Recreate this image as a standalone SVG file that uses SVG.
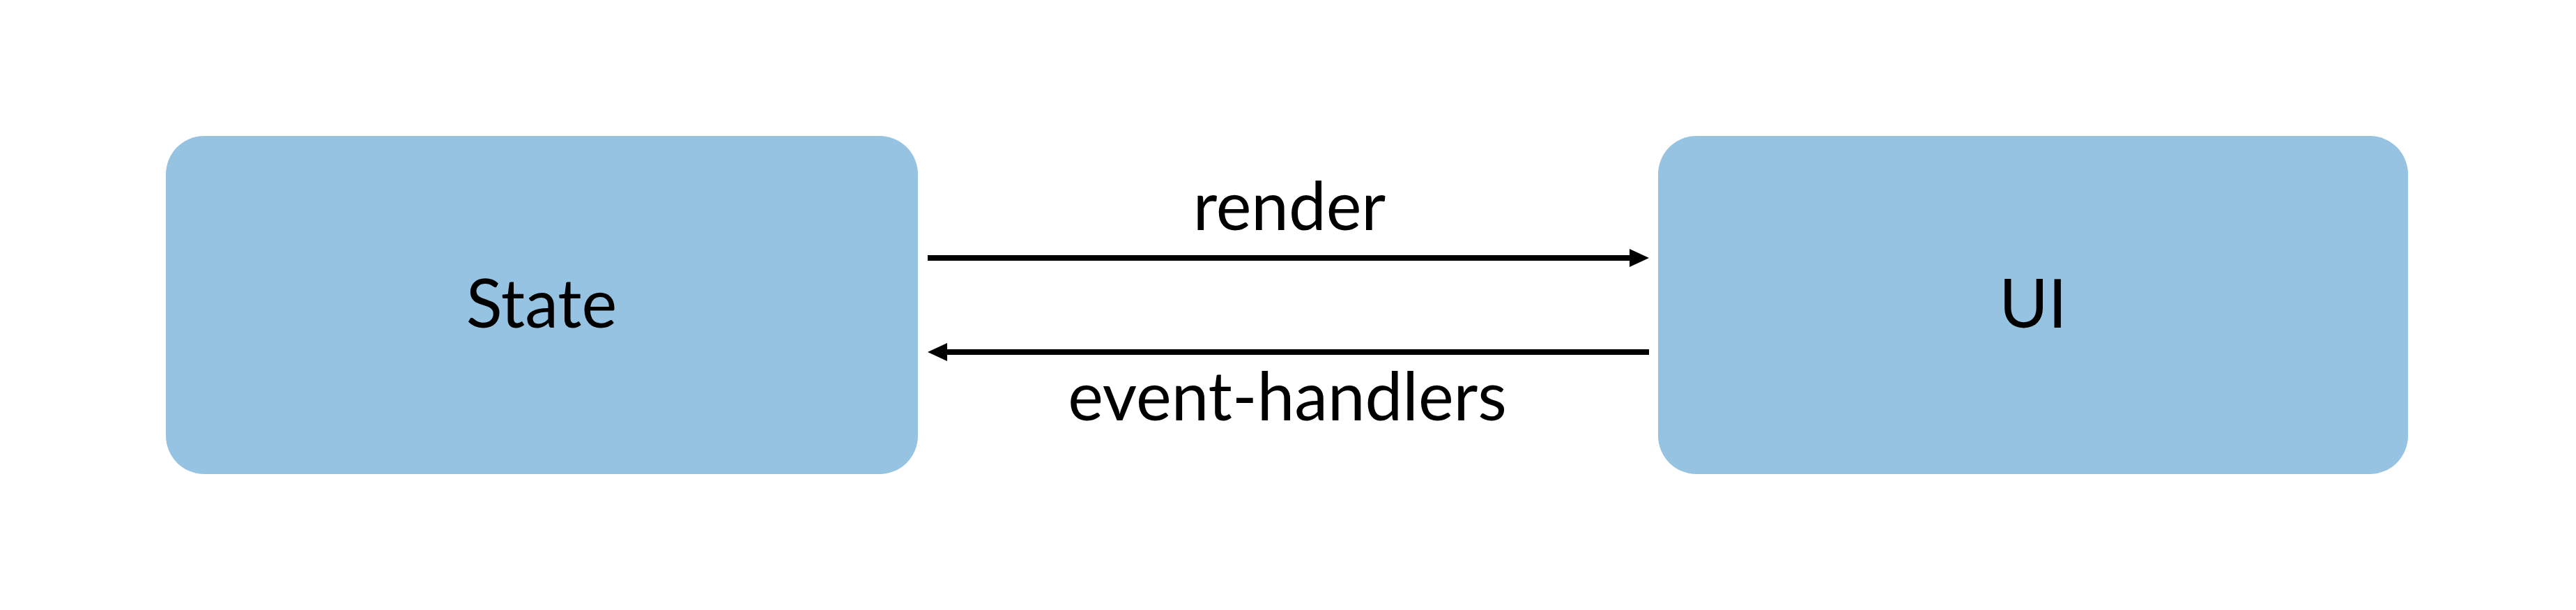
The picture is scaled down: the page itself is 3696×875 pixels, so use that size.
<svg xmlns="http://www.w3.org/2000/svg" width="3696" height="875" viewBox="0 0 3696 875">
<style>
.node{fill:#96c3e2}
.lbl{font-family:Lato,"Open Sans","Liberation Sans",sans-serif;font-size:96px;fill:#000;text-anchor:middle}
.edge{stroke:#000;stroke-width:8;fill:none}
</style>
<defs>
<marker id="arrow" markerUnits="userSpaceOnUse" markerWidth="28" markerHeight="26" viewBox="0 0 28 26" refX="0" refY="13" orient="auto">
<path d="M0,0 L28,13 L0,26 Z" fill="#000"/>
</marker>
</defs>
<rect width="3696" height="875" fill="#fff"/>
<g id="node-state">
<rect class="node" x="238" y="195" width="1079" height="485" rx="55" ry="55"/>
<text class="lbl" x="777" y="470">State</text>
</g>
<g id="node-ui">
<rect class="node" x="2379" y="195" width="1076" height="485" rx="55" ry="55"/>
<text class="lbl" x="2917" y="470">UI</text>
</g>
<g id="connectors">
<line class="edge" x1="1331" y1="370" x2="2338" y2="370" marker-end="url(#arrow)"/>
<line class="edge" x1="2366" y1="505" x2="1359" y2="505" marker-end="url(#arrow)"/>
<text class="lbl" x="1850" y="330">render</text>
<text class="lbl" x="1847" y="603">event-handlers</text>
</g>
</svg>
